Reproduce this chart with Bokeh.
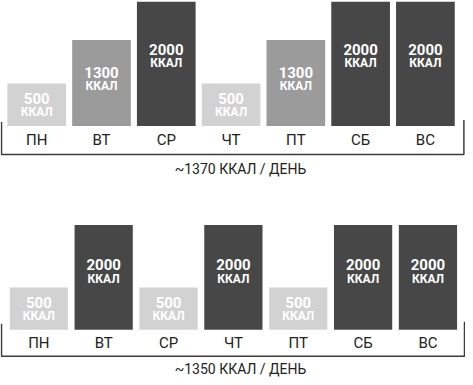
from bokeh.plotting import figure
from bokeh.layouts import column
from bokeh.models import Range1d, ColumnDataSource
from bokeh.core.properties import value
from bokeh.embed import file_html
from bokeh.resources import INLINE

days = ["ПН", "ВТ", "СР", "ЧТ", "ПТ", "СБ", "ВС"]
kcal_week1 = [500, 1300, 2000, 500, 1300, 2000, 2000]
kcal_week2 = [500, 2000, 500, 2000, 500, 2000, 2000]
caption1 = "~1370 ККАЛ / ДЕНЬ"
caption2 = "~1350 ККАЛ / ДЕНЬ"
unit = "ККАЛ"

FONT = "Roboto"
COLORS = {500: "#d2d2d2", 1300: "#9b9b9b", 2000: "#474747"}
W = 465


def make_chart(vals, caption, H, base_top, k, o, x_start, x_end, bar_w,
               lab_px, br_px, br_top_l, br_top_r, cap_px, br_left, br_right):
    # base_top: baseline px from top of frame; k: px per kcal; o: px height at 0
    B = -o / k

    def yv(px_below):
        return B - px_below / k

    def xv(px):
        return x_start + px * (x_end - x_start) / W

    p = figure(width=W, height=H, output_backend="svg", toolbar_location=None,
               x_range=Range1d(x_start, x_end),
               y_range=Range1d(B - (H - base_top) / k, B + base_top / k),
               min_border=0, outline_line_color=None)
    p.axis.visible = False
    p.grid.visible = False

    xs = list(range(len(days)))
    frac = 0.6
    src = ColumnDataSource(dict(
        x=xs, top=vals, day=days,
        color=[COLORS[v] for v in vals],
        num=[str(v) for v in vals],
        unit=[unit] * len(vals),
        ly=[B + frac * (v - B) for v in vals],
    ))
    p.vbar(x="x", top="top", bottom=B, width=bar_w, source=src,
           fill_color="color", line_color=None)
    p.text(x="x", y="ly", text="num", source=src, text_color="white",
           text_font=value(FONT), text_font_style="bold", text_font_size="15px",
           text_align="center", text_baseline="middle", y_offset=-2)
    p.text(x="x", y="ly", text="unit", source=src, text_color="white",
           text_font=value(FONT), text_font_style="bold", text_font_size="12px",
           text_align="center", text_baseline="middle", y_offset=12)
    p.text(x="x", y=yv(lab_px), text="day", source=src, text_color="#222222",
           text_font=value(FONT), text_font_size="15px",
           text_align="center", text_baseline="middle")

    xl = xv(br_left)
    xr = xv(br_right)
    p.line(x=[xl, xl, xr, xr], y=[yv(-br_top_l), yv(br_px), yv(br_px), yv(-br_top_r)],
           line_color="#3a3a3a", line_width=1.5)
    p.text(x=[xv(240)], y=[yv(cap_px)], text=[caption],
           text_color="#222222", text_font=value(FONT), text_font_size="14px",
           text_align="center", text_baseline="middle")
    return p


p1 = make_chart(kcal_week1, caption1, H=188, base_top=125.4, k=0.0544, o=15.3,
                x_start=-0.559, x_end=6.619, bar_w=0.906,
                lab_px=14, br_px=28.5, br_top_l=4, br_top_r=6, cap_px=43,
                br_left=1, br_right=463.4)
p2 = make_chart(kcal_week2, caption2, H=189, base_top=141.3, k=0.0418, o=21.3,
                x_start=-0.591, x_end=6.579, bar_w=0.898,
                lab_px=12.7, br_px=26.4, br_top_l=6, br_top_r=8, cap_px=39,
                br_left=1, br_right=464)

layout = column(p1, p2, spacing=0)
open("out.html", "w").write(file_html(layout, INLINE))
